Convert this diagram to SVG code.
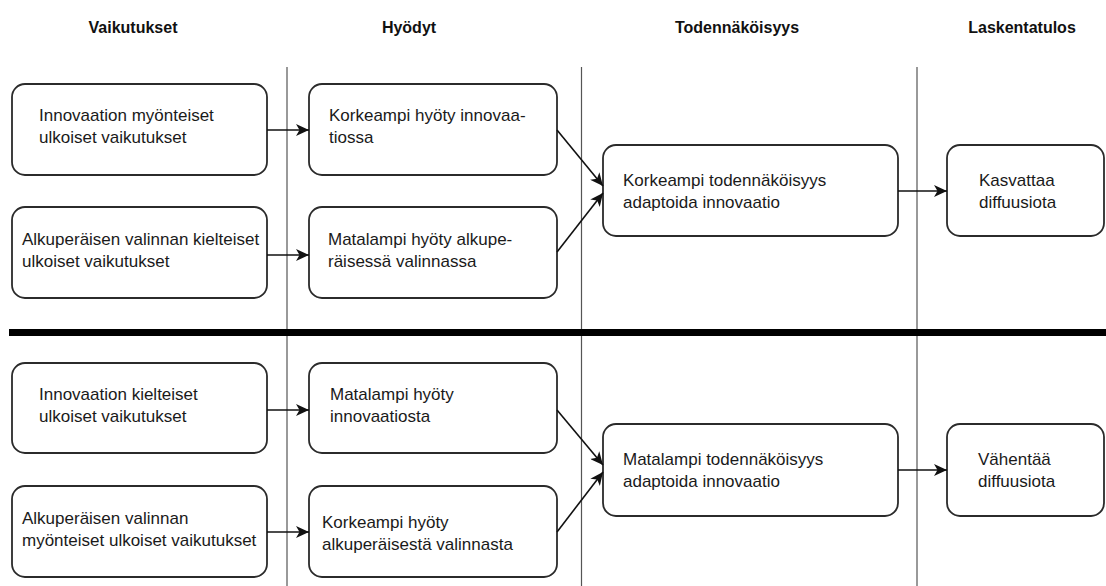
<svg xmlns="http://www.w3.org/2000/svg" width="1106" height="586" viewBox="0 0 1106 586">
  <style>
    .hdr { font-family: "Liberation Sans", Arial, sans-serif; font-size: 16px; font-weight: bold; fill: #111; text-anchor: middle; }
    .lbl { font-family: "Liberation Sans", Arial, sans-serif; font-size: 17px; fill: #1a1a1a; }
    .box { fill: #fff; stroke: #2b2b2b; stroke-width: 1.8; }
    .sep { stroke: #555; stroke-width: 1.2; }
    .conn { stroke: #111; stroke-width: 1.6; fill: none; marker-end: url(#arrow); }
  </style>
  <defs>
    <marker id="arrow" markerUnits="userSpaceOnUse" markerWidth="14" markerHeight="12" refX="13" refY="6" orient="auto">
      <path d="M0,0 L13,6 L0,12 L3.5,6 z" fill="#111"/>
    </marker>
  </defs>
  <rect width="1106" height="586" fill="#fff"/>

  <!-- column headers -->
  <g id="headers">
    <text class="hdr" x="133" y="33">Vaikutukset</text>
    <text class="hdr" x="409" y="33">Hyödyt</text>
    <text class="hdr" x="737" y="33">Todennäköisyys</text>
    <text class="hdr" x="1022" y="33">Laskentatulos</text>
  </g>

  <!-- column separators and section divider -->
  <g id="grid">
    <line class="sep" x1="287" y1="67" x2="287" y2="586"/>
    <line class="sep" x1="581.5" y1="67" x2="581.5" y2="586"/>
    <line class="sep" x1="917" y1="67" x2="917" y2="586"/>
    <rect x="9" y="329" width="1097" height="7" fill="#000"/>
  </g>

  <!-- upper section -->
  <g id="n-pos-innovation">
    <rect class="box" x="12" y="84" width="255" height="91" rx="13"/>
    <text class="lbl" x="39" y="121">Innovaation myönteiset</text>
    <text class="lbl" x="39" y="143">ulkoiset vaikutukset</text>
  </g>
  <g id="n-neg-original">
    <rect class="box" x="12" y="207" width="255" height="91" rx="13"/>
    <text class="lbl" x="22" y="245">Alkuperäisen valinnan kielteiset</text>
    <text class="lbl" x="22" y="267">ulkoiset vaikutukset</text>
  </g>
  <g id="n-high-benefit">
    <rect class="box" x="309" y="84" width="248" height="91" rx="13"/>
    <text class="lbl" x="329" y="121">Korkeampi hyöty innovaa-</text>
    <text class="lbl" x="329" y="143">tiossa</text>
  </g>
  <g id="n-low-benefit-original">
    <rect class="box" x="309" y="207" width="248" height="91" rx="13"/>
    <text class="lbl" x="328" y="245">Matalampi hyöty alkupe-</text>
    <text class="lbl" x="328" y="267">räisessä valinnassa</text>
  </g>
  <g id="n-high-prob">
    <rect class="box" x="603" y="145" width="295" height="91" rx="13"/>
    <text class="lbl" x="623" y="186">Korkeampi todennäköisyys</text>
    <text class="lbl" x="623" y="208">adaptoida innovaatio</text>
  </g>
  <g id="n-increase">
    <rect class="box" x="947" y="145" width="157" height="91" rx="13"/>
    <text class="lbl" x="979" y="186">Kasvattaa</text>
    <text class="lbl" x="979" y="208">diffuusiota</text>
  </g>

  <!-- lower section -->
  <g id="n-neg-innovation">
    <rect class="box" x="12" y="363" width="255" height="90" rx="13"/>
    <text class="lbl" x="39" y="400">Innovaation kielteiset</text>
    <text class="lbl" x="39" y="422">ulkoiset vaikutukset</text>
  </g>
  <g id="n-pos-original">
    <rect class="box" x="12" y="486" width="255" height="91" rx="13"/>
    <text class="lbl" x="22" y="524">Alkuperäisen valinnan</text>
    <text class="lbl" x="22" y="546">myönteiset ulkoiset vaikutukset</text>
  </g>
  <g id="n-low-benefit">
    <rect class="box" x="309" y="363" width="248" height="90" rx="13"/>
    <text class="lbl" x="330" y="400">Matalampi hyöty</text>
    <text class="lbl" x="330" y="422">innovaatiosta</text>
  </g>
  <g id="n-high-benefit-original">
    <rect class="box" x="309" y="486" width="248" height="91" rx="13"/>
    <text class="lbl" x="322" y="528">Korkeampi hyöty</text>
    <text class="lbl" x="322" y="550">alkuperäisestä valinnasta</text>
  </g>
  <g id="n-low-prob">
    <rect class="box" x="603" y="424" width="295" height="92" rx="13"/>
    <text class="lbl" x="623" y="465">Matalampi todennäköisyys</text>
    <text class="lbl" x="623" y="487">adaptoida innovaatio</text>
  </g>
  <g id="n-decrease">
    <rect class="box" x="947" y="424" width="157" height="92" rx="13"/>
    <text class="lbl" x="978" y="465">Vähentää</text>
    <text class="lbl" x="978" y="487">diffuusiota</text>
  </g>

  <!-- connectors -->
  <g id="connectors">
    <line class="conn" x1="267" y1="130" x2="309" y2="130"/>
    <line class="conn" x1="267" y1="255" x2="309" y2="255"/>
    <line class="conn" x1="557" y1="130" x2="603" y2="186"/>
    <line class="conn" x1="557" y1="252" x2="603" y2="193"/>
    <line class="conn" x1="898" y1="191" x2="947" y2="191"/>

    <line class="conn" x1="267" y1="410" x2="309" y2="410"/>
    <line class="conn" x1="267" y1="532" x2="309" y2="532"/>
    <line class="conn" x1="557" y1="410" x2="603" y2="465"/>
    <line class="conn" x1="557" y1="532" x2="603" y2="472"/>
    <line class="conn" x1="898" y1="470" x2="947" y2="470"/>
  </g>
</svg>
